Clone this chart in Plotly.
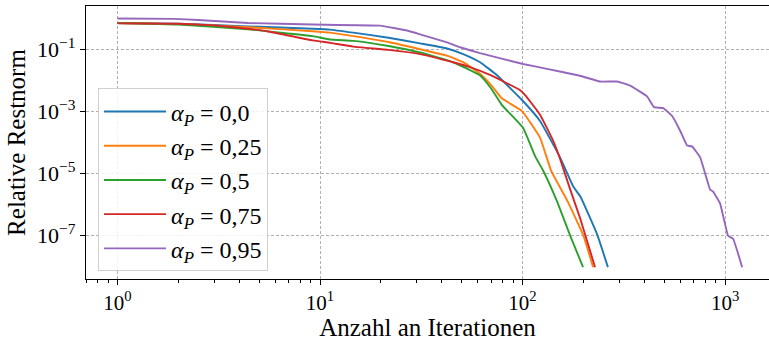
import plotly.graph_objects as go

# Relative residual norm per iteration for different alpha_P values
labels = ["0,0", "0,25", "0,5", "0,75", "0,95"]
colors = ["#1f77b4", "#ff7f0e", "#2ca02c", "#d62728", "#9467bd"]

iter_a00 = [1, 2, 4.4, 9.2, 11.2, 14.6, 21.8, 31.2, 42.4, 50.9, 61.7, 75, 99.4, 122, 153, 178, 193, 234, 264]
res_a00 = [0.72, 0.68, 0.56, 0.47, 0.44, 0.35, 0.24, 0.158, 0.108, 0.071, 0.0387, 0.0145,
           2.33e-3, 4.9e-4, 3.3e-5, 3.7e-6, 1.77e-6, 1.02e-7, 9.2e-9]

iter_a025 = [1, 2, 4.4, 9.2, 11.2, 14.6, 21.8, 31.2, 42.4, 50.9, 61.7, 70, 79, 99.4, 122, 138, 167, 200, 223]
res_a025 = [0.72, 0.66, 0.53, 0.39, 0.35, 0.27, 0.174, 0.102, 0.063, 0.039, 0.0164, 7.0e-3,
            2.64e-3, 1.02e-3, 1.42e-4, 1.27e-5, 1.23e-6, 9.5e-8, 9.2e-9]

iter_a05 = [1, 2, 4.4, 9.2, 11.2, 14.6, 21.8, 31.2, 45.4, 61.7, 70, 79, 100.5, 116, 126, 148, 172, 199]
res_a05 = [0.72, 0.64, 0.45, 0.27, 0.21, 0.19, 0.13, 0.080, 0.0387, 0.0145, 5.5e-3, 1.62e-3,
           2.95e-4, 3.3e-5, 1.27e-5, 1.23e-6, 9.5e-8, 9.2e-9]

iter_a075 = [1, 2, 3, 4.4, 5.5, 9.2, 11.2, 14.6, 21.8, 31.2, 45.4, 55, 70, 97, 103, 122, 141.5,
             153, 172, 193, 228]
res_a075 = [0.70, 0.68, 0.60, 0.47, 0.39, 0.197, 0.164, 0.124, 0.097, 0.071, 0.0387, 0.027,
            0.0145, 4.9e-3, 3.36e-3, 7.8e-4, 1.14e-4, 3.0e-5, 2.95e-6, 3.3e-7, 9.2e-9]

iter_a095 = [1, 1.9, 2.5, 4.4, 9.2, 19.8, 26.9, 31.2, 42.4, 49.1, 61.7, 100.5, 132, 192, 241, 293,
             340, 412, 446, 495, 548, 600, 649, 687, 753, 844, 873, 945, 1035, 1096, 1215]
res_a095 = [1.0, 0.98, 0.90, 0.72, 0.64, 0.59, 0.41, 0.31, 0.17, 0.118, 0.076, 0.034, 0.0237,
            0.0142, 9.2e-3, 9.2e-3, 6.8e-3, 3.06e-3, 1.37e-3, 1.27e-3, 7.1e-4, 2.37e-4, 7.9e-5,
            7.4e-5, 3.3e-5, 2.95e-6, 2.55e-6, 1.06e-6, 9.5e-8, 7.6e-8, 9.2e-9]

series_x = [iter_a00, iter_a025, iter_a05, iter_a075, iter_a095]
series_y = [res_a00, res_a025, res_a05, res_a075, res_a095]
smoothing = [0.35, 0.35, 0.35, 0.35, 0.25]

x_major = [1, 10, 100, 1000]
x_major_text = ["10<sup>0</sup>", "10<sup>1</sup>", "10<sup>2</sup>", "10<sup>3</sup>"]
y_major = [1e-1, 1e-3, 1e-5, 1e-7]
y_major_text = ["10<sup>\u22121</sup>", "10<sup>\u22123</sup>", "10<sup>\u22125</sup>", "10<sup>\u22127</sup>"]
x_minor = [m * 10 ** k for k in range(-1, 4) for m in range(2, 10) if 0.69 < m * 10 ** k < 1640]

FONT = "Liberation Serif"

fig = go.Figure()
for lab, col, xs, ys, sm in zip(labels, colors, series_x, series_y, smoothing):
    fig.add_trace(go.Scatter(
        x=xs, y=ys, mode="lines",
        line=dict(color=col, width=1.9, shape="spline", smoothing=sm),
        name=f"<i>\u03b1</i><sub><i>P</i></sub> = {lab}",
    ))

grid_col = "#b0b0b0"
fig.update_layout(
    width=769, height=341,
    margin=dict(l=86, r=0, t=6, b=57),
    paper_bgcolor="white", plot_bgcolor="white",
    font=dict(family=FONT, size=22, color="black"),
    showlegend=True,
    legend=dict(
        x=0.0176, y=0.698, xanchor="left", yanchor="top",
        bgcolor="rgba(255,255,255,0.85)", bordercolor="#d0d0d0", borderwidth=1,
        font=dict(family=FONT, size=24),
        itemwidth=62,
    ),
    xaxis=dict(
        type="log", range=[-0.1556, 3.217],
        tickvals=x_major, ticktext=x_major_text,
        ticks="outside", ticklen=5, tickwidth=1, tickcolor="black",
        showline=True, linecolor="black", linewidth=1.2, mirror=True,
        showgrid=True, gridcolor=grid_col, gridwidth=0.8, griddash="3px,2px",
        zeroline=False,
        tickfont=dict(size=21),
        minor=dict(tickvals=x_minor, ticks="outside", ticklen=3, tickwidth=0.8,
                   tickcolor="black", showgrid=False),
        title=dict(text="Anzahl an Iterationen", font=dict(size=25), standoff=8),
    ),
    yaxis=dict(
        type="log", range=[-8.419, 0.406],
        tickvals=y_major, ticktext=y_major_text,
        ticks="outside", ticklen=5, tickwidth=1, tickcolor="black",
        showline=True, linecolor="black", linewidth=1.2, mirror=False,
        showgrid=True, gridcolor=grid_col, gridwidth=0.8, griddash="3px,2px",
        zeroline=False,
        tickfont=dict(size=22),
        title=dict(text="Relative Restnorm", font=dict(size=25), standoff=4),
    ),
)

fig.write_html("out.html")
